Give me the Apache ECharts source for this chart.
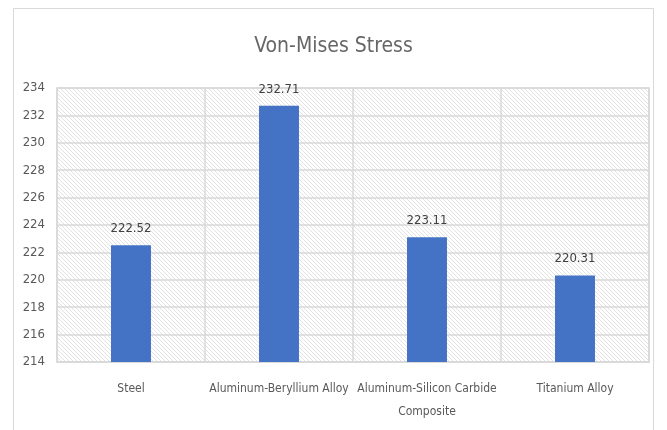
<!DOCTYPE html>
<html>
<head>
<meta charset="utf-8">
<script src="https://cdn.jsdelivr.net/npm/echarts@6/dist/echarts.min.js"></script>
<style>
  html, body { margin: 0; padding: 0; background: #fff; }
  #chart { width: 667px; height: 430px; }
</style>
</head>
<body>
<div id="chart"></div>
<script>
var materials = ['Steel', 'Aluminum-Beryllium Alloy', 'Aluminum-Silicon Carbide\nComposite', 'Titanium Alloy'];
var stress = [222.52, 232.71, 223.11, 220.31];
var yMin = 214, yMax = 234, yStep = 2;

var font = "'DejaVu Sans Condensed', 'Liberation Sans Narrow', sans-serif";

// diagonal hatch for the plot background
function hatch() {
    var c = document.createElement('canvas');
    c.width = 4; c.height = 4;
    var g = c.getContext('2d');
    g.fillStyle = '#fff';
    g.fillRect(0, 0, 4, 4);
    g.strokeStyle = '#e2e2e2';
    g.lineWidth = 1;
    g.beginPath();
    g.moveTo(-1, -1); g.lineTo(5, 5);
    g.moveTo(-1, 3); g.lineTo(1, 5);
    g.moveTo(3, -1); g.lineTo(5, 1);
    g.stroke();
    return c;
}

var chart = echarts.init(document.getElementById('chart'));
chart.setOption({
    animation: false,
    textStyle: { fontFamily: font },
    title: {
        text: 'Von-Mises Stress',
        left: 'center',
        top: 31,
        textStyle: { fontFamily: font, fontSize: 21, fontWeight: 'normal', color: '#666666' }
    },
    graphic: [{
        type: 'rect',
        shape: { x: 13.5, y: 8.5, width: 640, height: 430 },
        style: { fill: 'none', stroke: '#d9d9d9', lineWidth: 1 },
        silent: true
    }],
    grid: {
        left: 57, right: 18, top: 88, bottom: 68,
        show: true,
        backgroundColor: { image: hatch(), repeat: 'repeat' },
        borderColor: '#d9d9d9',
        borderWidth: 1.5
    },
    xAxis: {
        type: 'category',
        data: materials,
        axisLine: { lineStyle: { color: '#d9d9d9', width: 1.5 } },
        axisTick: { show: false },
        splitLine: { show: true, lineStyle: { color: '#d9d9d9', width: 1.5 } },
        axisLabel: { color: '#595959', fontSize: 12, margin: 15, lineHeight: 23, interval: 0 }
    },
    yAxis: {
        type: 'value',
        min: yMin, max: yMax, interval: yStep,
        axisLine: { show: false },
        axisTick: { show: false },
        splitLine: { lineStyle: { color: '#d9d9d9', width: 1.5 } },
        axisLabel: { color: '#595959', fontSize: 13, margin: 12 }
    },
    series: [{
        type: 'bar',
        data: stress,
        barWidth: '27%',
        itemStyle: { color: '#4472C4' },
        label: {
            show: true,
            position: 'top',
            distance: 10,
            color: '#404040',
            fontSize: 13,
            formatter: function (p) { return p.value.toFixed(2); }
        }
    }]
});
</script>
</body>
</html>
